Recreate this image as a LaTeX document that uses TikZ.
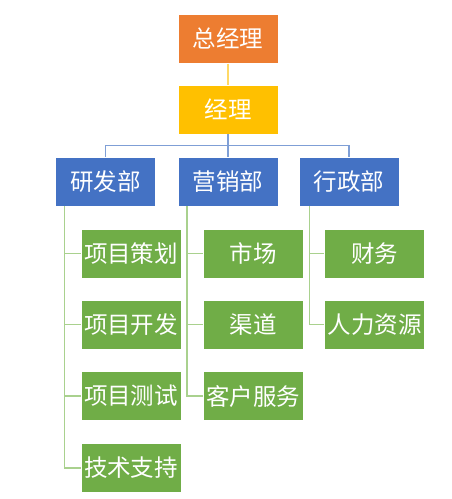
\documentclass[tikz,border=0pt]{standalone}
\usepackage{fontspec}
\newfontfamily\cjk{Noto Sans CJK SC}
\definecolor{orgc}{HTML}{ED7D31}
\definecolor{goldc}{HTML}{FFC000}
\definecolor{bluec}{HTML}{4472C4}
\definecolor{greenc}{HTML}{70AD47}
\definecolor{ylinec}{HTML}{FFD966}
\definecolor{blinec}{HTML}{7F9FD6}
\definecolor{glinec}{HTML}{A9D18E}
\tikzset{
  box/.style={draw=white, line width=0.6pt, minimum width=100pt, minimum height=49pt,
    inner sep=0pt, text=white, font=\cjk\fontsize{23.5pt}{25pt}\selectfont},
  topbox/.style={box, fill=orgc},
  mgrbox/.style={box, fill=goldc},
  deptbox/.style={box, fill=bluec},
  itembox/.style={box, fill=greenc},
  yline/.style={draw=ylinec, line width=1.5pt},
  bline/.style={draw=blinec, line width=1.5pt},
  gline/.style={draw=glinec, line width=1.5pt}
}
\begin{document}
\begin{tikzpicture}[x=1pt,y=-1pt]
\useasboundingbox (0,0) rectangle (452,499);
% top
\node[topbox] (ceo) at (228,38.8) {总经理};
\node[mgrbox] (mgr) at (228,109.5) {经理};
% departments
\node[deptbox] (rd) at (105.5,181.3) {研发部};
\node[deptbox] (mk) at (228,181.3) {营销部};
\node[deptbox] (ad) at (349.2,181.3) {行政部};
% items
\node[itembox] (r1) at (131,253.6) {项目策划};
\node[itembox] (r2) at (131,324.3) {项目开发};
\node[itembox] (r3) at (131,396.1) {项目测试};
\node[itembox] (r4) at (131,468) {技术支持};
\node[itembox] (m1) at (253.2,253.6) {市场};
\node[itembox] (m2) at (253.2,324.3) {渠道};
\node[itembox] (m3) at (253.2,396.1) {客户服务};
\node[itembox] (a1) at (374.5,253.6) {财务};
\node[itembox] (a2) at (374.5,324.3) {人力资源};
% connectors
\draw[yline] (ceo.south) -- (mgr.north);
\coordinate (bus) at (228,145.7);
\draw[bline] (mgr.south) -- (bus);
\draw[bline] (rd.north) |- (bus) -| (ad.north);
\draw[bline] (bus) -- (mk.north);
\foreach \c in {r1,r2,r3,r4}{
  \draw[gline] ([xshift=-40.8pt]rd.south) |- (\c.west);
}
\foreach \c in {m1,m2,m3}{
  \draw[gline] ([xshift=-41pt]mk.south) |- (\c.west);
}
\foreach \c in {a1,a2}{
  \draw[gline] ([xshift=-39.5pt]ad.south) |- (\c.west);
}
\end{tikzpicture}
\end{document}
